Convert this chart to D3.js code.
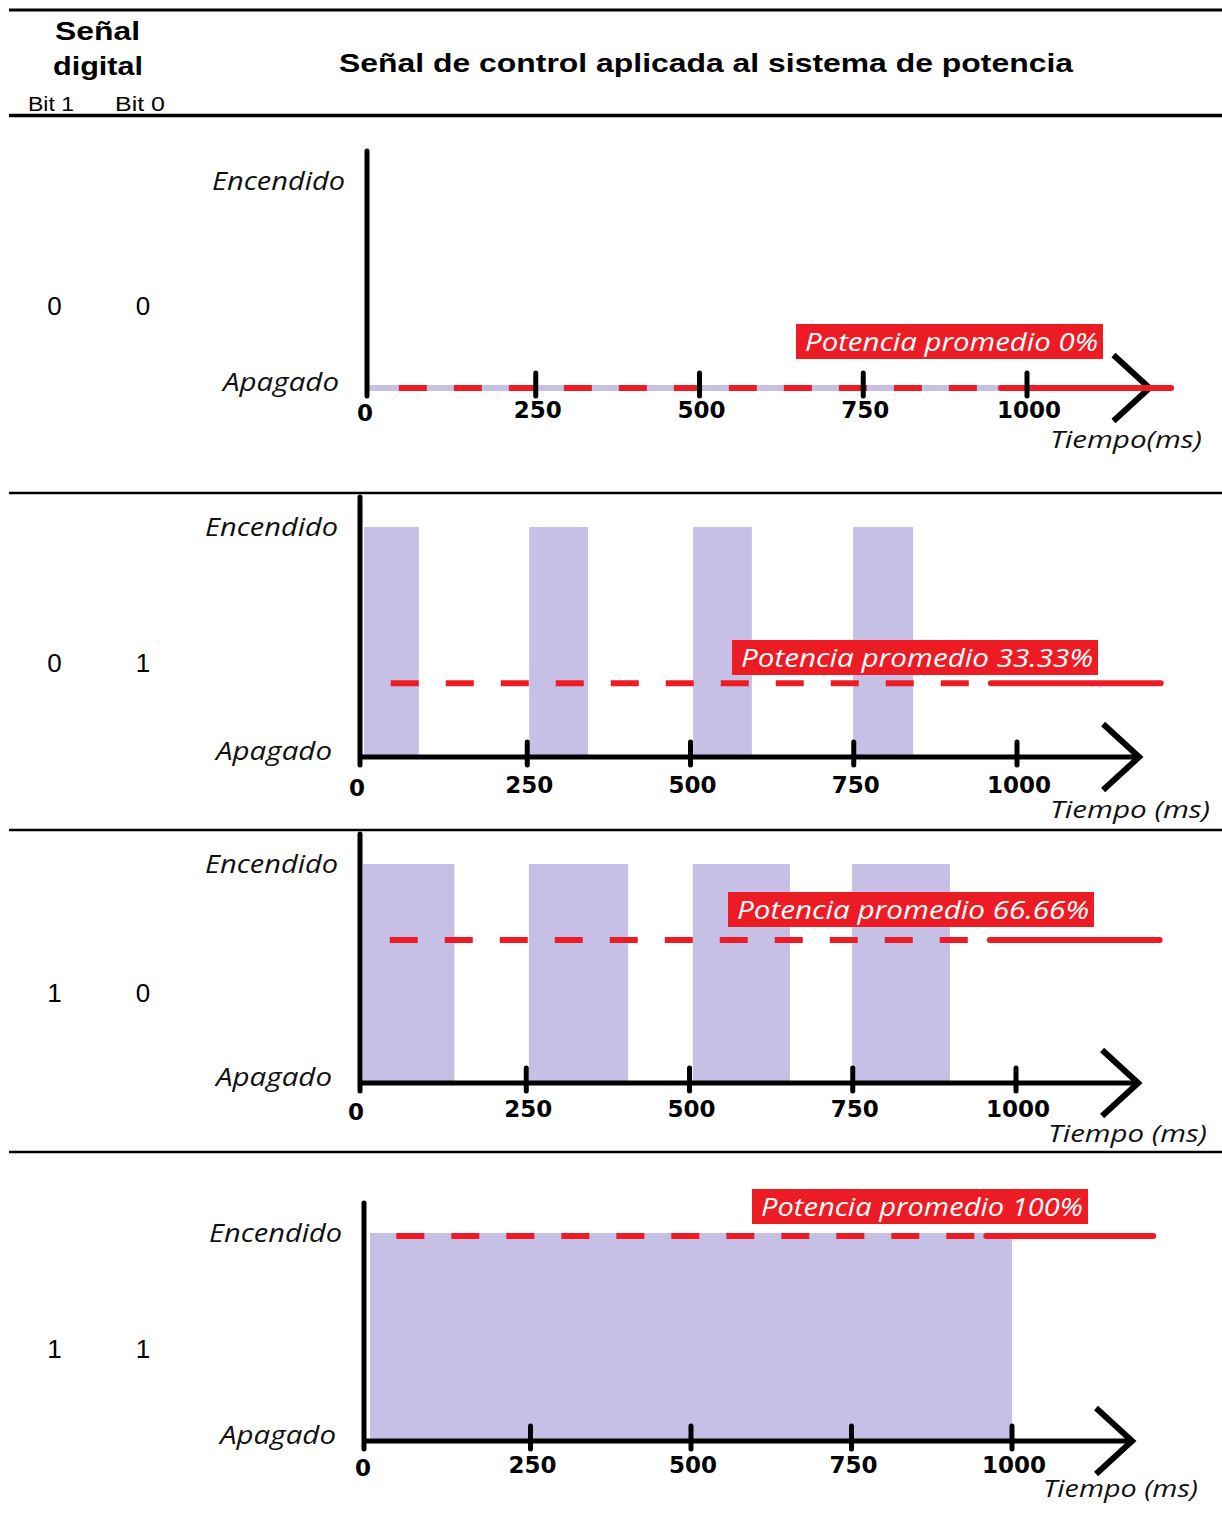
<!DOCTYPE html>
<html>
<head>
<meta charset="utf-8">
<script src="https://cdn.jsdelivr.net/npm/d3@7"></script>
<style>
  body { margin: 0; background: #fff; }
  svg { display: block; }
</style>
</head>
<body>
<script>
// Two-bit digital code for each row
const bit1 = ["0", "0", "1", "1"];
const bit0 = ["0", "1", "0", "1"];

// Average power delivered for each code (%)
const avgPower = [0, 33.33, 66.66, 100];
const avgLabels = [
  "Potencia promedio 0%",
  "Potencia promedio 33.33%",
  "Potencia promedio 66.66%",
  "Potencia promedio 100%"
];

// ON intervals of the control signal, [start, end] in ms
const pulses00 = [];
const pulses01 = [[0, 84], [253, 343], [504, 594], [749, 841]];
const pulses10 = [[0, 140], [254, 406], [505, 654], [749, 899]];
const pulses11 = [[0, 1000]];
const pulsesByRow = [pulses00, pulses01, pulses10, pulses11];

// Time axis
const tickValues = [0, 250, 500, 750, 1000];
const tickLabels = ["0", "250", "500", "750", "1000"];
const levelLabels = ["Encendido", "Apagado"];
const timeLabels = ["Tiempo(ms)", "Tiempo (ms)", "Tiempo (ms)", "Tiempo (ms)"];

// Extent of the average-power trace (ms): dashed part, then solid part
const avgDashStart = 41, avgDashEnd = 960, avgSolidEnd = 1220;
const signalEnd = 1000;
const arrowTip = 1187;

// Header texts
const headerLeft = ["Señal", "digital"];
const bitHeaders = ["Bit 1", "Bit 0"];
const title = "Señal de control aplicada al sistema de potencia";

// ---- layout ----
const W = 1222, H = 1537;
const RED = "#ED1C24", LAV = "#C6BFE6";
const SANS = "'Liberation Sans', Arial, sans-serif";
const ITAL = "'Open Sans', sans-serif";
const BOLD = "'DejaVu Sans', sans-serif";

const layout = [
  { x0: 372, x1: 1027, y0: 388,  y1: 181,  axisX: 367, tickDy: 30, timeDy: 60, timeRight: 1202, timeW: 152, boxTop: 324, textLeft: 805, textW: 293, rowBase: 315 },
  { x0: 364, x1: 1017, y0: 757,  y1: 527,  axisX: 360, tickDy: 36, timeDy: 61, timeRight: 1210, timeW: 160, boxTop: 640, textLeft: 741, textW: 352, rowBase: 672 },
  { x0: 363, x1: 1016, y0: 1083, y1: 864,  axisX: 360, tickDy: 34, timeDy: 59, timeRight: 1207, timeW: 159, boxTop: 892, textLeft: 737, textW: 352, rowBase: 1002 },
  { x0: 370, x1: 1012, y0: 1441, y1: 1233, axisX: 364, tickDy: 32, timeDy: 56, timeRight: 1198, timeW: 155, boxTop: 1189, textLeft: 761, textW: 322, rowBase: 1358 }
];

const svg = d3.select("body").append("svg")
  .attr("width", W).attr("height", H)
  .attr("viewBox", `0 0 ${W} ${H}`);

// ---- header ----
const rules = [
  { y: 10, w: 3 }, { y: 115.5, w: 3.5 },
  { y: 493, w: 2.5 }, { y: 830, w: 2.5 }, { y: 1152, w: 2.5 }
];
svg.selectAll("line.rule").data(rules).join("line")
  .attr("class", "rule")
  .attr("x1", 9).attr("x2", W)
  .attr("y1", d => d.y).attr("y2", d => d.y)
  .attr("stroke", "#000").attr("stroke-width", d => d.w);

const headerText = [
  { t: headerLeft[0], x: 97.5, y: 40, size: 26, w: 85, weight: 700 },
  { t: headerLeft[1], x: 98, y: 75, size: 26, w: 90, weight: 700 },
  { t: bitHeaders[0], x: 51, y: 111, size: 20, w: 46, weight: 400 },
  { t: bitHeaders[1], x: 140, y: 111, size: 20, w: 50, weight: 400 },
  { t: title, x: 706, y: 72, size: 26, w: 734, weight: 700 }
];
svg.selectAll("text.head").data(headerText).join("text")
  .attr("class", "head")
  .attr("x", d => d.x).attr("y", d => d.y)
  .attr("text-anchor", "middle")
  .attr("font-family", SANS).attr("font-size", d => d.size)
  .attr("font-weight", d => d.weight)
  .attr("textLength", d => d.w).attr("lengthAdjust", "spacingAndGlyphs")
  .text(d => d.t);

// ---- one panel per digital code ----
layout.forEach((L, i) => {
  const g = svg.append("g");
  const x = d3.scaleLinear().domain([0, 1000]).range([L.x0, L.x1]);
  const y = d3.scaleLinear().domain([0, 100]).range([L.y0, L.y1]);

  // digital code
  g.selectAll("text.bit").data([bit1[i], bit0[i]]).join("text")
    .attr("x", (d, k) => k === 0 ? 54.5 : 143)
    .attr("y", L.rowBase)
    .attr("text-anchor", "middle")
    .attr("font-family", SANS).attr("font-size", 26)
    .text(d => d);

  // ON intervals of the signal
  g.selectAll("rect.pulse").data(pulsesByRow[i]).join("rect")
    .attr("x", d => x(d[0]))
    .attr("width", d => x(d[1]) - x(d[0]))
    .attr("y", y(100))
    .attr("height", y(0) - y(100))
    .attr("fill", LAV);

  // time axis line and arrow head
  g.append("line")
    .attr("x1", L.axisX).attr("x2", x(arrowTip))
    .attr("y1", y(0)).attr("y2", y(0))
    .attr("stroke", "#000").attr("stroke-width", 5);
  g.append("path")
    .attr("d", d3.line()([[x(arrowTip) - 36, y(0) - 33], [x(arrowTip), y(0)], [x(arrowTip) - 36, y(0) + 33]]))
    .attr("fill", "none").attr("stroke", "#000").attr("stroke-width", 6)
    .attr("stroke-linejoin", "miter");

  // signal held OFF for the whole window
  if (pulsesByRow[i].length === 0) {
    g.append("line")
      .attr("x1", L.axisX).attr("x2", x(signalEnd))
      .attr("y1", y(0)).attr("y2", y(0))
      .attr("stroke", LAV).attr("stroke-width", 6);
  }

  // average power trace (sits just under its level, like the original stroke)
  const yAvg = y(avgPower[i]) + (avgPower[i] > 0 ? 3 : 0);
  g.append("line")
    .attr("x1", x(avgDashStart)).attr("x2", x(avgDashEnd))
    .attr("y1", yAvg).attr("y2", yAvg)
    .attr("stroke", RED).attr("stroke-width", 6)
    .attr("stroke-dasharray", "28 27");
  g.append("line")
    .attr("x1", x(avgDashEnd)).attr("x2", x(avgSolidEnd))
    .attr("y1", yAvg).attr("y2", yAvg)
    .attr("stroke", RED).attr("stroke-width", 6)
    .attr("stroke-linecap", "round");

  // ticks and labels
  g.selectAll("line.tick").data(tickValues.filter(v => v > 0)).join("line")
    .attr("x1", d => x(d)).attr("x2", d => x(d))
    .attr("y1", y(0) - 15).attr("y2", y(0) + 8)
    .attr("stroke", "#000").attr("stroke-width", 5)
    .attr("stroke-linecap", "round");
  g.selectAll("text.tick").data(tickValues).join("text")
    .attr("x", d => x(d) + (d === 0 ? -7 : 2))
    .attr("y", d => y(0) + L.tickDy + (d === 0 ? 3 : 0))
    .attr("text-anchor", "middle")
    .attr("font-family", BOLD).attr("font-weight", 700).attr("font-size", 23)
    .text((d, k) => tickLabels[k]);

  // level axis
  g.append("line")
    .attr("x1", L.axisX).attr("x2", L.axisX)
    .attr("y1", y(100) - 30).attr("y2", y(0) + 8)
    .attr("stroke", "#000").attr("stroke-width", 5)
    .attr("stroke-linecap", "round");

  const levels = [
    { t: levelLabels[0], yy: y(100) + 9, right: L.axisX - 22, w: 133 },
    { t: levelLabels[1], yy: y(0) + 3, right: L.axisX - 28, w: 116 }
  ];
  g.selectAll("text.level").data(levels).join("text")
    .attr("x", d => d.right).attr("y", d => d.yy)
    .attr("text-anchor", "end")
    .attr("font-family", ITAL).attr("font-style", "italic").attr("font-size", 25)
    .attr("textLength", d => d.w).attr("lengthAdjust", "spacingAndGlyphs")
    .attr("fill", "#111")
    .text(d => d.t);

  g.append("text")
    .attr("x", L.timeRight).attr("y", y(0) + L.timeDy)
    .attr("text-anchor", "end")
    .attr("font-family", ITAL).attr("font-style", "italic").attr("font-size", 24)
    .attr("textLength", L.timeW).attr("lengthAdjust", "spacingAndGlyphs")
    .attr("fill", "#111")
    .text(timeLabels[i]);

  // average power tag
  g.append("rect")
    .attr("x", L.textLeft - 9).attr("y", L.boxTop)
    .attr("width", L.textW + 14).attr("height", 35)
    .attr("fill", RED);
  g.append("text")
    .attr("x", L.textLeft).attr("y", L.boxTop + 27)
    .attr("font-family", ITAL).attr("font-style", "italic").attr("font-size", 25)
    .attr("textLength", L.textW).attr("lengthAdjust", "spacingAndGlyphs")
    .attr("fill", "#fff")
    .text(avgLabels[i]);
});
</script>
</body>
</html>
